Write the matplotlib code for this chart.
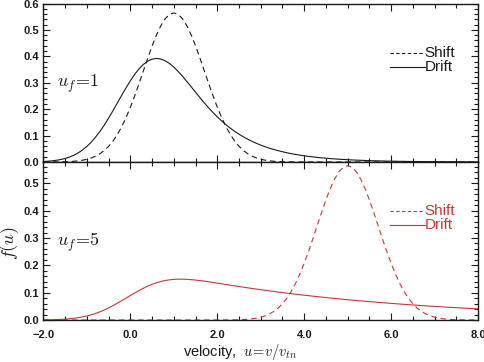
import matplotlib
matplotlib.use("Agg")
import matplotlib.pyplot as plt
from matplotlib.ticker import MultipleLocator, FuncFormatter

# velocity grid (u from -2 to 8, step 0.1)
u = [round(-2.0 + 0.1 * i, 1) for i in range(101)]

# u_f = 1 : shifted Maxwellian and drift distribution
shift_uf1 = [0.0001, 0.0001, 0.0002, 0.0004, 0.0007, 0.0011, 0.0018, 0.0028, 0.0045, 0.0069,
             0.0103, 0.0153, 0.0221, 0.0314, 0.0436, 0.0595, 0.0795, 0.1041, 0.1337, 0.1682,
             0.2076, 0.2510, 0.2975, 0.3456, 0.3936, 0.4394, 0.4808, 0.5156, 0.5421, 0.5586,
             0.5642, 0.5586, 0.5421, 0.5156, 0.4808, 0.4394, 0.3936, 0.3456, 0.2975, 0.2510,
             0.2076, 0.1682, 0.1337, 0.1041, 0.0795, 0.0595, 0.0436, 0.0314, 0.0221, 0.0153,
             0.0103, 0.0069, 0.0045, 0.0028, 0.0018, 0.0011, 0.0007, 0.0004, 0.0002, 0.0001,
             0.0001, 0.0, 0.0, 0.0, 0.0, 0.0, 0.0, 0.0, 0.0, 0.0,
             0.0, 0.0, 0.0, 0.0, 0.0, 0.0, 0.0, 0.0, 0.0, 0.0,
             0.0, 0.0, 0.0, 0.0, 0.0, 0.0, 0.0, 0.0, 0.0, 0.0,
             0.0, 0.0, 0.0, 0.0, 0.0, 0.0, 0.0, 0.0, 0.0, 0.0, 0.0]
drift_uf1 = [0.0019, 0.0030, 0.0044, 0.0066, 0.0095, 0.0135, 0.0188, 0.0257, 0.0346, 0.0456,
             0.0592, 0.0754, 0.0946, 0.1160, 0.1401, 0.1665, 0.1945, 0.2235, 0.2527, 0.2811,
             0.3078, 0.3321, 0.3529, 0.3697, 0.3820, 0.3894, 0.3920, 0.3898, 0.3833, 0.3728,
             0.3591, 0.3427, 0.3244, 0.3048, 0.2845, 0.2640, 0.2437, 0.2241, 0.2052, 0.1874,
             0.1709, 0.1553, 0.1412, 0.1280, 0.1161, 0.1052, 0.0953, 0.0862, 0.0781, 0.0707,
             0.0639, 0.0578, 0.0523, 0.0474, 0.0429, 0.0388, 0.0351, 0.0317, 0.0287, 0.0260,
             0.0235, 0.0213, 0.0193, 0.0174, 0.0158, 0.0143, 0.0129, 0.0117, 0.0106, 0.0096,
             0.0087, 0.0078, 0.0071, 0.0064, 0.0058, 0.0052, 0.0048, 0.0043, 0.0039, 0.0035,
             0.0032, 0.0029, 0.0026, 0.0024, 0.0021, 0.0019, 0.0018, 0.0016, 0.0014, 0.0013,
             0.0012, 0.0011, 0.0010, 0.0009, 0.0008, 0.0007, 0.0006, 0.0006, 0.0005, 0.0005, 0.0004]

# u_f = 5
shift_uf5 = [0.0, 0.0, 0.0, 0.0, 0.0, 0.0, 0.0, 0.0, 0.0, 0.0,
             0.0, 0.0, 0.0, 0.0, 0.0, 0.0, 0.0, 0.0, 0.0, 0.0,
             0.0, 0.0, 0.0, 0.0, 0.0, 0.0, 0.0, 0.0, 0.0, 0.0,
             0.0, 0.0, 0.0, 0.0, 0.0, 0.0, 0.0, 0.0, 0.0, 0.0,
             0.0001, 0.0001, 0.0002, 0.0004, 0.0007, 0.0011, 0.0018, 0.0028, 0.0045, 0.0069,
             0.0103, 0.0153, 0.0221, 0.0314, 0.0436, 0.0595, 0.0795, 0.1041, 0.1337, 0.1682,
             0.2076, 0.2510, 0.2975, 0.3456, 0.3936, 0.4394, 0.4808, 0.5156, 0.5421, 0.5586,
             0.5642, 0.5586, 0.5421, 0.5156, 0.4808, 0.4394, 0.3936, 0.3456, 0.2975, 0.2510,
             0.2076, 0.1682, 0.1337, 0.1041, 0.0795, 0.0595, 0.0436, 0.0314, 0.0221, 0.0153,
             0.0103, 0.0069, 0.0045, 0.0028, 0.0018, 0.0011, 0.0007, 0.0004, 0.0002, 0.0001, 0.0001]
drift_uf5 = [0.0005, 0.0007, 0.0010, 0.0016, 0.0023, 0.0032, 0.0045, 0.0063, 0.0085, 0.0113,
             0.0148, 0.0190, 0.0241, 0.0300, 0.0367, 0.0442, 0.0525, 0.0613, 0.0706, 0.0801,
             0.0897, 0.0990, 0.1080, 0.1163, 0.1239, 0.1305, 0.1362, 0.1408, 0.1444, 0.1470,
             0.1486, 0.1494, 0.1494, 0.1488, 0.1476, 0.1461, 0.1442, 0.1421, 0.1398, 0.1374,
             0.1349, 0.1324, 0.1299, 0.1274, 0.1249, 0.1225, 0.1201, 0.1177, 0.1154, 0.1131,
             0.1109, 0.1087, 0.1065, 0.1044, 0.1023, 0.1003, 0.0983, 0.0964, 0.0945, 0.0926,
             0.0908, 0.0890, 0.0872, 0.0855, 0.0838, 0.0821, 0.0805, 0.0789, 0.0773, 0.0758,
             0.0743, 0.0728, 0.0714, 0.0700, 0.0686, 0.0672, 0.0659, 0.0646, 0.0633, 0.0621,
             0.0608, 0.0596, 0.0585, 0.0573, 0.0562, 0.0551, 0.0540, 0.0529, 0.0518, 0.0508,
             0.0498, 0.0488, 0.0479, 0.0469, 0.0460, 0.0451, 0.0442, 0.0433, 0.0424, 0.0416, 0.0408]

panel_labels = ["1", "5"]
legend_labels = ["Shift", "Drift"]

BLACK = "#1a1a1a"
RED = "#c83737"

plt.rcParams["font.family"] = ["Liberation Sans", "DejaVu Sans"]
plt.rcParams["mathtext.fontset"] = "cm"

W, H = 485, 362
fig = plt.figure(figsize=(W / 100, H / 100), dpi=100)

left, right = 43.5 / W, 478 / W
top_ax = fig.add_axes([left, 1 - 162 / H, right - left, 158.5 / H])
bot_ax = fig.add_axes([left, 1 - 320 / H, right - left, 158 / H])

panels = [
    (top_ax, shift_uf1, drift_uf1, BLACK, 0.6, panel_labels[0]),
    (bot_ax, shift_uf5, drift_uf5, RED, 0.578, panel_labels[1]),
]

fmt = FuncFormatter(lambda v, p: ("%.1f" % v).replace("-", "\u2212"))

for ax, sh, dr, col, ytop, lab in panels:
    ax.plot(u, sh, color=col, lw=0.8, ls=(0, (5, 3.5)))
    ax.plot(u, dr, color=col, lw=0.8, ls="-")
    ax.set_xlim(-2, 8)
    ax.set_ylim(0, ytop)
    ax.xaxis.set_major_locator(MultipleLocator(2.0))
    ax.xaxis.set_minor_locator(MultipleLocator(0.5))
    ax.yaxis.set_major_locator(MultipleLocator(0.1))
    ax.yaxis.set_minor_locator(MultipleLocator(0.02))
    ax.tick_params(which="both", direction="in", top=True, right=True,
                   labelsize=8, width=0.8, colors=BLACK)
    ax.tick_params(axis="y", pad=3)
    ax.tick_params(axis="x", pad=7)
    ax.tick_params(which="major", length=5)
    ax.tick_params(which="minor", length=3)
    ax.yaxis.set_major_formatter(fmt)
    ax.xaxis.set_major_formatter(fmt)
    for s in ax.spines.values():
        s.set_linewidth(1.0)
        s.set_color(BLACK)
    for t in ax.get_xticklabels() + ax.get_yticklabels():
        t.set_fontweight("bold")
    ax.text(0.030, 0.49, r"$u_f\!=\!\mathit{" + lab + "}$", transform=ax.transAxes,
            fontsize=13, color=BLACK, va="center", ha="left")
    # legend-like line samples
    ax.plot([0.797, 0.877], [0.69, 0.69], transform=ax.transAxes,
            color=col, lw=0.8, ls=(0, (3, 2.2)))
    ax.plot([0.797, 0.877], [0.60, 0.60], transform=ax.transAxes,
            color=col, lw=0.8, ls="-")
    ax.text(0.877, 0.69, legend_labels[0], transform=ax.transAxes,
            fontsize=11, color=col, va="center", ha="left")
    ax.text(0.877, 0.60, legend_labels[1], transform=ax.transAxes,
            fontsize=11, color=col, va="center", ha="left")

top_ax.tick_params(labelbottom=False)
bot_ax.set_yticks([0, 0.1, 0.2, 0.3, 0.4, 0.5])

fig.text(10 / W, 1 - 243 / H, r"$f(u)$", rotation=90, fontsize=13,
         ha="center", va="center", color=BLACK)
fig.text(240 / W, 1 - 352 / H, r"velocity,  $u\!=\!v/v_{tn}$", fontsize=10.5,
         ha="center", va="center", color=BLACK)

fig.savefig("out.png", dpi=100)
